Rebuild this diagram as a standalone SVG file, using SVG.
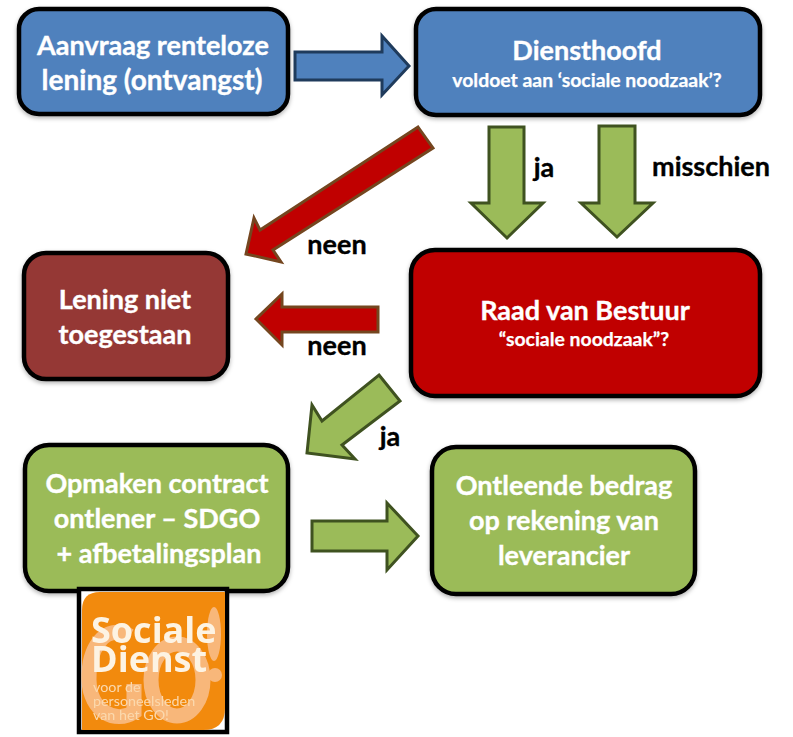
<svg xmlns="http://www.w3.org/2000/svg" width="793" height="737" viewBox="0 0 793 737">
<defs>
<filter id="sh" x="-5%" y="-5%" width="110%" height="115%"><feDropShadow dx="0" dy="2" stdDeviation="2" flood-color="#000" flood-opacity="0.3"/></filter>
<filter id="soft" x="-5%" y="-5%" width="110%" height="110%"><feGaussianBlur stdDeviation="0.6"/></filter>
</defs>
<style>
text{font-family:"Lato","Open Sans","Liberation Sans",sans-serif;font-weight:700;text-anchor:middle}
.box{stroke:#000;stroke-width:4.5;filter:url(#sh)}
.w{fill:#fff;font-size:27px;stroke:#fff;stroke-width:.35}
.s{fill:#fff;font-size:19.4px;stroke:#fff;stroke-width:.25}
.k{fill:#000;font-size:27px;stroke:#000;stroke-width:.35}
.blue{fill:#4f81bd}
.green{fill:#9bbb59}
.red{fill:#c00000}
.ag{fill:#9bbb59;stroke:#3f5220;stroke-width:3}
.ar{fill:#c00000;stroke:#74461f;stroke-width:3}
.ab{fill:#4f81bd;stroke:#1f3b5c;stroke-width:3}
.lt{text-anchor:start;font-family:"Open Sans","Liberation Sans",sans-serif;font-size:36px;fill:#fdf3e3}
.ls{text-anchor:start;font-weight:400;font-size:14.3px;fill:#fbd9ae}
</style>
<g id="connectors">
<polygon class="ab" points="295,52 382,52 382,36 409,66 382,95 382,80 295,80"/>
<polygon class="ar" points="418,127 433,148 273,250 281,262 246,254 254,218 260,230"/>
<polygon class="ag" points="489,127 524,127 524,203 543,203 507,238 471,203 489,203"/>
<polygon class="ag" points="599,126 635,126 635,203 653,203 617,237 581,203 599,203"/>
<polygon class="ar" points="378,307 378,332 282,332 282,345 256,319 282,294 282,307"/>
<polygon class="ag" points="379,375 400,401 342,445 355,459 307,453 312,405 322,421"/>
<polygon class="ag" points="312,521 387,521 387,503 418,536 387,570 387,551 312,551"/>
<text class="k" x="337" y="254">neen</text>
<text class="k" x="337" y="355">neen</text>
<text class="k" x="544" y="177">ja</text>
<text class="k" x="711" y="176">misschien</text>
<text class="k" x="390" y="446">ja</text>
</g>
<g id="aanvraag">
<rect class="box blue" x="19" y="9" width="269" height="105" rx="20"/>
<text class="w" x="153" y="55">Aanvraag renteloze</text>
<text class="w" x="152" y="90" style="font-size:28px">lening (ontvangst)</text>
</g>
<g id="diensthoofd">
<rect class="box blue" x="416" y="9" width="344" height="106" rx="20"/>
<text class="w" x="587" y="60">Diensthoofd</text>
<text class="s" x="587" y="87">voldoet aan ‘sociale noodzaak’?</text>
</g>
<g id="lening">
<rect x="24" y="253" width="204" height="126" rx="22" fill="#953735" stroke="#000" stroke-width="4.5" filter="url(#sh)"/>
<text class="w" x="125" y="309">Lening niet</text>
<text class="w" x="125" y="344">toegestaan</text>
</g>
<g id="raad">
<rect class="box red" x="411" y="250" width="349" height="146" rx="24"/>
<text class="w" x="585" y="320">Raad van Bestuur</text>
<text class="s" x="584" y="346">“sociale noodzaak”?</text>
</g>
<g id="contract">
<rect class="box green" x="25" y="445" width="263" height="146" rx="24"/>
<text class="w" x="157" y="493">Opmaken contract</text>
<text class="w" x="157" y="528">ontlener – SDGO</text>
<text class="w" x="159" y="563">+ afbetalingsplan</text>
</g>
<g id="bedrag">
<rect class="box green" x="432" y="447" width="263" height="147" rx="24"/>
<text class="w" x="564" y="495">Ontleende bedrag</text>
<text class="w" x="564" y="530">op rekening van</text>
<text class="w" x="564" y="565">leverancier</text>
</g>
<g id="logo">
<rect x="79" y="589" width="148" height="143" fill="#fff" stroke="#000" stroke-width="4.5"/>
<g filter="url(#soft)">
<path d="M100,592 H225 V708 Q225,730 203,730 H82 V610 Q82,592 100,592 Z" fill="#f28a0e"/>
<g fill="none" stroke="#f8b77a" stroke-width="15">
<path d="M130,636 C104,622 88,650 89,680 C90,712 116,724 134,712 V684"/>
<ellipse cx="177" cy="680" rx="26" ry="36"/>
</g>
<ellipse cx="214" cy="634" rx="7" ry="27" fill="#f8b77a"/>
<circle cx="215" cy="675" r="7" fill="#f8b77a"/>
<text class="lt" x="91" y="643">Sociale</text>
<text class="lt" x="91" y="672">Dienst</text>
<text class="ls" x="93" y="692">voor de</text>
<text class="ls" x="93" y="706">personeelsleden</text>
<text class="ls" x="93" y="720">van het GO!</text>
</g>
</g>
</svg>
